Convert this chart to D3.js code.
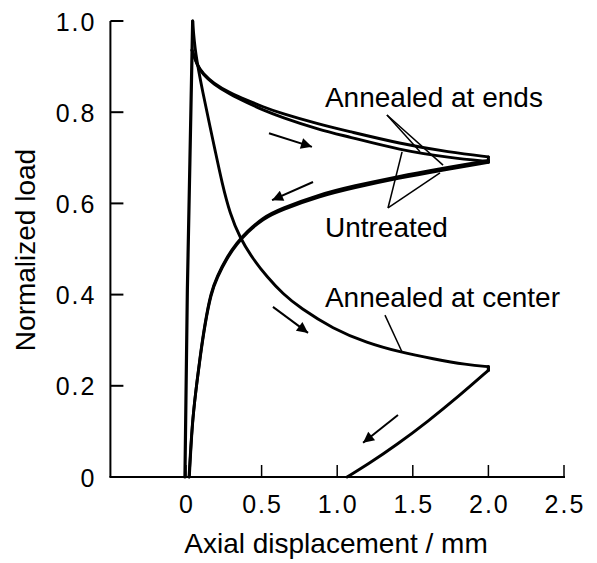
<!DOCTYPE html>
<html>
<head>
<meta charset="utf-8">
<script src="https://cdn.jsdelivr.net/npm/d3@7"></script>
<style>
  html, body { margin: 0; padding: 0; background: #fff; }
  svg { display: block; }
  text { font-family: "Liberation Sans", Arial, Helvetica, sans-serif; fill: #000; }
</style>
</head>
<body>
<svg id="chart" width="597" height="563"></svg>
<script>
// Axis ticks
const xTicks = [0, 0.5, 1.0, 1.5, 2.0, 2.5];
const xTickLabels = ["0", "0.5", "1.0", "1.5", "2.0", "2.5"];
const yTicks = [0, 0.2, 0.4, 0.6, 0.8, 1.0];
const yTickLabels = ["0", "0.2", "0.4", "0.6", "0.8", "1.0"];

// Initial elastic loading (shared by all specimens): [displacement mm, normalized load]
const loading = [[-0.007, 0], [0.009, 0.41], [0.026, 0.695], [0.044, 1.0]];

// Untreated / annealed at ends: load relaxation while displacing to 2.0 mm
const untreatedOut = [[0.040, 0.936], [0.075, 0.902], [0.112, 0.885], [0.179, 0.864], [0.291, 0.842],
  [0.403, 0.826], [0.509, 0.812], [0.622, 0.798], [0.886, 0.773], [1.065, 0.759],
  [1.415, 0.731], [1.746, 0.712], [2.0, 0.702]];
const annealedEndsOut = [[0.040, 0.936], [0.075, 0.901], [0.112, 0.883], [0.179, 0.862], [0.291, 0.839],
  [0.403, 0.821], [0.509, 0.805], [0.622, 0.790], [0.886, 0.761], [1.065, 0.747],
  [1.415, 0.717], [1.746, 0.700], [2.0, 0.692]];
// Return path of the same two specimens (from 2.0 mm back towards zero)
const untreatedBack = [[2.0, 0.694], [1.66, 0.675], [1.415, 0.660], [1.104, 0.638], [0.886, 0.620],
  [0.622, 0.588], [0.509, 0.569], [0.403, 0.538], [0.337, 0.514], [0.271, 0.483],
  [0.205, 0.440], [0.165, 0.405], [0.126, 0.339], [0.093, 0.264], [0.066, 0.192],
  [0.041, 0.118], [0.022, 0]];
const annealedEndsBack = [[2.0, 0.690], [1.66, 0.671], [1.415, 0.656], [1.104, 0.634], [0.886, 0.616],
  [0.622, 0.585], [0.509, 0.566], [0.403, 0.536], [0.337, 0.511], [0.271, 0.480],
  [0.205, 0.437], [0.165, 0.402], [0.126, 0.336], [0.093, 0.261], [0.065, 0.189],
  [0.040, 0.116], [0.020, 0]];

// Annealed at center
const centerOut = [[0.044, 1.0], [0.060, 0.93], [0.112, 0.842], [0.159, 0.768], [0.192, 0.717],
  [0.238, 0.645], [0.291, 0.577], [0.357, 0.524], [0.443, 0.478], [0.536, 0.439],
  [0.642, 0.401], [0.754, 0.371], [0.972, 0.325], [1.197, 0.294], [1.415, 0.274],
  [1.634, 0.259], [1.858, 0.246], [2.0, 0.242]];
const centerBack = [[2.0, 0.234], [1.8, 0.176], [1.6, 0.122], [1.4, 0.072],
  [1.2, 0.027], [1.065, 0]];

// Direction arrows [from, to]
const arrows = [
  [[0.549, 0.754], [0.833, 0.724]],
  [[0.840, 0.647], [0.569, 0.607]],
  [[0.575, 0.373], [0.807, 0.316]],
  [[1.402, 0.136], [1.171, 0.075]]
];

// Labels with leader lines
const labels = [
  { text: "Annealed at ends", at: [0.919, 0.811], leaders: [[[1.329, 0.794], [1.548, 0.713]], [[1.329, 0.794], [1.70, 0.684]]] },
  { text: "Untreated", at: [0.919, 0.526], leaders: [[[1.336, 0.590], [1.429, 0.713]], [[1.336, 0.590], [1.68, 0.667]]] },
  { text: "Annealed at center", at: [0.919, 0.373], leaders: [[[1.316, 0.355], [1.429, 0.274]]] }
];

const svg = d3.select("#chart");
const x = d3.scaleLinear().domain([-0.5, 2.5]).range([110.4, 564]);
const y = d3.scaleLinear().domain([0, 1]).range([477, 21]);

// Axes
const axisG = svg.append("g");
axisG.append("line").attr("x1", x(-0.5)).attr("x2", x(-0.5)).attr("y1", y(0)).attr("y2", y(1))
  .attr("stroke", "#000").attr("stroke-width", 2);
axisG.append("line").attr("x1", x(-0.5) - 1).attr("x2", x(2.5) + 1).attr("y1", y(0)).attr("y2", y(0))
  .attr("stroke", "#000").attr("stroke-width", 2);

// Y ticks point inward
axisG.selectAll(".yt").data(yTicks).enter().append("line")
  .attr("x1", x(-0.5)).attr("x2", x(-0.5) + 13)
  .attr("y1", d => y(d)).attr("y2", d => y(d))
  .attr("stroke", "#000").attr("stroke-width", 2);
axisG.selectAll(".yl").data(yTicks).enter().append("text")
  .attr("x", x(-0.5) - 14).attr("y", d => y(d) + 9.5)
  .attr("text-anchor", "end").attr("font-size", 25).style("letter-spacing", "2px")
  .text((d, i) => yTickLabels[i]);

// X ticks point upward
axisG.selectAll(".xt").data(xTicks).enter().append("line")
  .attr("x1", d => x(d)).attr("x2", d => x(d))
  .attr("y1", y(0)).attr("y2", y(0) - 12)
  .attr("stroke", "#000").attr("stroke-width", 1.5);
axisG.selectAll(".xl").data(xTicks).enter().append("text")
  .attr("x", d => x(d) + 1).attr("y", 513)
  .attr("text-anchor", "middle").attr("font-size", 25).style("letter-spacing", "2px")
  .text((d, i) => xTickLabels[i]);

// Axis titles
svg.append("text").attr("x", 336).attr("y", 553).attr("text-anchor", "middle")
  .attr("font-size", 28).text("Axial displacement / mm");
svg.append("text").attr("transform", "translate(35,250) rotate(-90)").attr("text-anchor", "middle")
  .attr("font-size", 28).text("Normalized load");

// Curves: smoothed B-spline through the measured points
const smooth = d3.line().x(d => x(d[0])).y(d => y(d[1])).curve(d3.curveBasis);
const straight = d3.line().x(d => x(d[0])).y(d => y(d[1]));
const curves = svg.append("g").attr("fill", "none").attr("stroke", "#000")
  .attr("stroke-linejoin", "round").attr("stroke-linecap", "round");

curves.append("path").attr("d", straight(loading)).attr("stroke-width", 3.2);

[[untreatedOut, untreatedBack], [annealedEndsOut, annealedEndsBack]].forEach(([out, back]) => {
  curves.append("path").attr("d", smooth(out)).attr("stroke-width", 2.9);
  curves.append("path").attr("d", smooth(back)).attr("stroke-width", 2.9);
  // turning point at 2.0 mm
  curves.append("path").attr("d", straight([out[out.length - 1], back[0]])).attr("stroke-width", 3);
});

curves.append("path").attr("d", smooth(centerOut)).attr("stroke-width", 2.9);
curves.append("path").attr("d", smooth(centerBack)).attr("stroke-width", 2.9);
curves.append("path").attr("d", straight([centerOut[centerOut.length - 1], centerBack[0]])).attr("stroke-width", 3.2);

// Arrows
const defs = svg.append("defs");
defs.append("marker").attr("id", "head").attr("viewBox", "0 0 10 10")
  .attr("refX", 10).attr("refY", 5).attr("markerWidth", 17).attr("markerHeight", 11)
  .attr("markerUnits", "userSpaceOnUse").attr("orient", "auto")
  .append("path").attr("d", "M0,0 L10,5 L0,10 Z").attr("fill", "#000");
svg.append("g").selectAll("line").data(arrows).enter().append("line")
  .attr("x1", d => x(d[0][0])).attr("y1", d => y(d[0][1]))
  .attr("x2", d => x(d[1][0])).attr("y2", d => y(d[1][1]))
  .attr("stroke", "#000").attr("stroke-width", 2).attr("marker-end", "url(#head)");

// Labels and leader lines
const lg = svg.append("g");
labels.forEach(l => {
  lg.append("text").attr("x", x(l.at[0])).attr("y", y(l.at[1])).attr("font-size", 28).text(l.text);
  l.leaders.forEach(seg => lg.append("line")
    .attr("x1", x(seg[0][0])).attr("y1", y(seg[0][1]))
    .attr("x2", x(seg[1][0])).attr("y2", y(seg[1][1]))
    .attr("stroke", "#000").attr("stroke-width", 1.5));
});
</script>
</body>
</html>
